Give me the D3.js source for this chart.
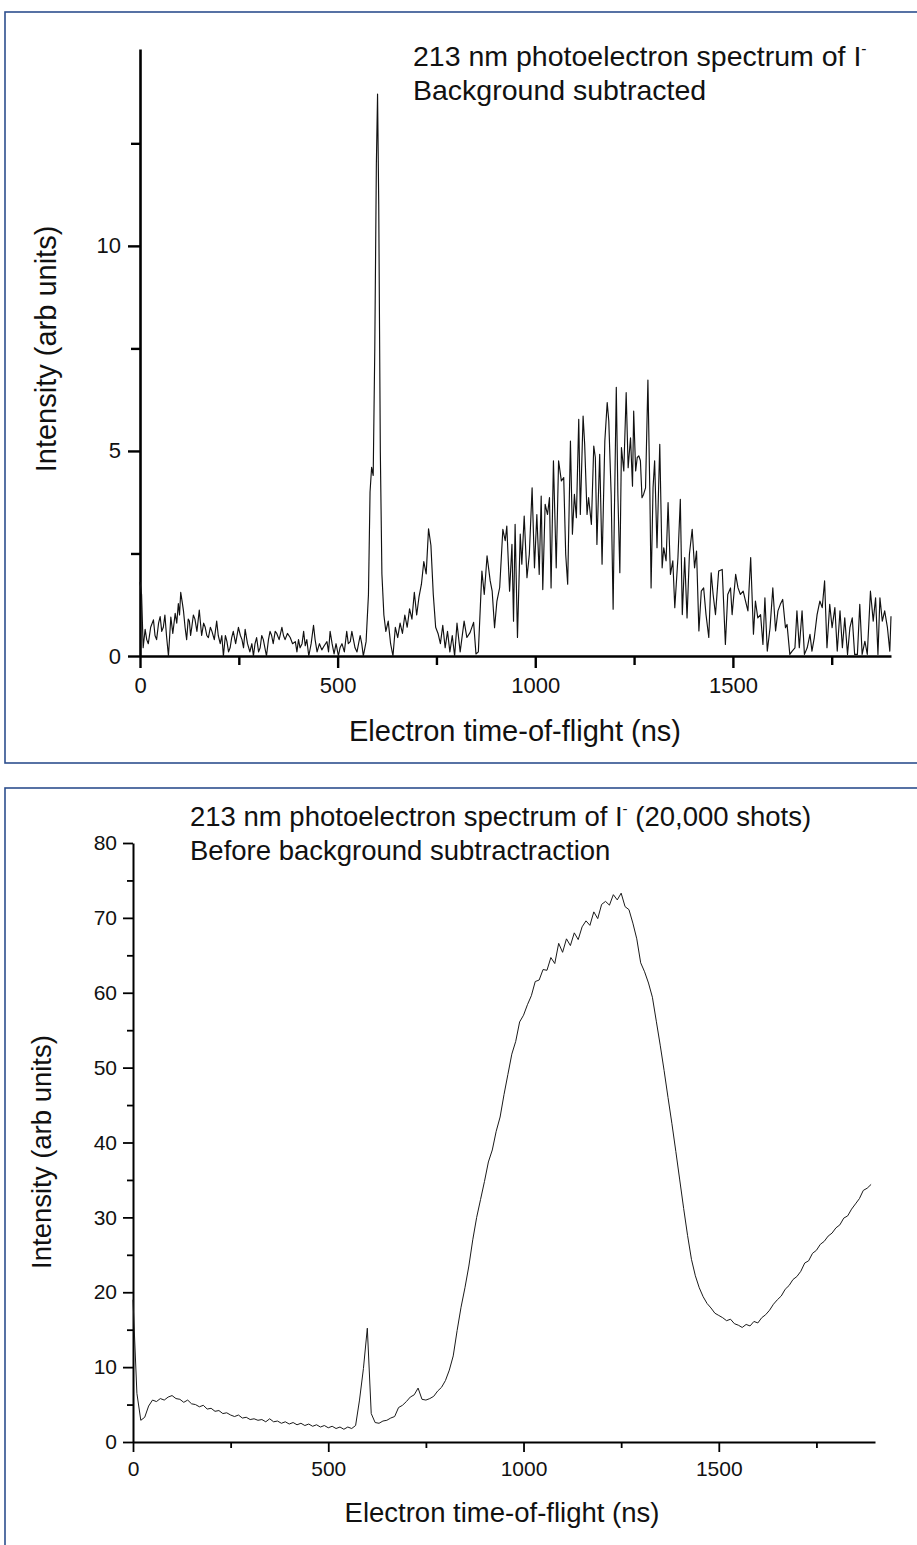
<!DOCTYPE html>
<html><head><meta charset="utf-8">
<script src="https://cdn.jsdelivr.net/npm/d3@7/dist/d3.min.js"></script>
<style>
body{margin:0;background:#fff}
svg{display:block}
text{font-family:"Liberation Sans",Arial,sans-serif;fill:#111}
</style>
</head><body>
<svg id="chart" width="917" height="1545"></svg>
<script>
// ---------- DATA ----------
// Top panel: background-subtracted spectrum [time-of-flight ns, intensity]
const topSpectrum = [
[0,1.8],[4,1.5],[8,0.2],[13,0.65],[17,0.4],[21,0.3],[27,0.7],[34,0.88],[38,0.5],[42,0.4],[47,0.8],[51,0.96],[55,0.6],[59,0.7],[63,1.0],[67,0.5],[72,0.0],[78,0.95],[83,0.55],[89,1.04],[93,0.8],[97,1.28],[100,1.0],[103,1.55],[107,1.3],[110,1.1],[114,0.7],[118,0.4],[122,0.9],[125,0.85],[128,0.5],[131,0.7],[135,1.0],[139,0.9],[144,0.6],[150,1.12],[153,0.8],[156,0.5],[161,0.8],[165,0.7],[169,0.5],[173,0.45],[178,0.7],[182,0.6],[188,0.4],[194,0.85],[198,0.5],[203,0.3],[207,0.5],[211,0.0],[216,0.5],[220,0.35],[224,0.1],[228,0.2],[232,0.45],[236,0.6],[242,0.3],[249,0.7],[254,0.5],[258,0.4],[262,0.2],[266,0.65],[272,0.3],[278,0.1],[283,0.3],[287,0.0],[291,0.3],[295,0.45],[300,0.1],[304,0.2],[308,0.5],[312,0.4],[316,0.2],[320,0.0],[325,0.4],[329,0.6],[333,0.5],[337,0.3],[342,0.6],[346,0.55],[352,0.4],[359,0.7],[363,0.5],[367,0.4],[373,0.55],[380,0.45],[386,0.3],[393,0.35],[397,0.1],[401,0.4],[405,0.2],[410,0.3],[414,0.6],[418,0.25],[422,0.4],[427,0.0],[433,0.3],[439,0.75],[443,0.4],[448,0.1],[454,0.3],[460,0.15],[466,0.25],[473,0.35],[477,0.1],[481,0.6],[486,0.3],[491,0.05],[496,0.3],[502,0.0],[506,0.2],[511,0.3],[517,0.1],[523,0.6],[527,0.3],[532,0.35],[536,0.6],[540,0.4],[544,0.2],[549,0.1],[553,0.3],[557,0.5],[561,0.3],[565,0.0],[569,0.2],[572,0.35],
[578,1.5],[582,4.0],[586,4.6],[590,4.4],[594,7.5],[598,12.0],[601,13.7],[604,11.0],[608,5.0],[612,2.0],[617,1.0],[622,0.6],[628,0.85],[634,0.3],[640,0.0],[646,0.7],[652,0.45],[658,0.8],[664,0.55],[670,1.0],[676,0.7],[682,1.15],[688,0.9],[694,1.55],[700,1.0],[706,1.45],[712,1.75],[718,2.3],[724,2.0],[730,3.1],[736,2.7],[742,1.5],[748,0.7],[754,0.55],[760,0.3],[766,0.75],[772,0.2],[778,0.6],[784,0.1],[790,0.5],[796,0.0],[802,0.8],
[810,0.1],[820,0.85],[827,0.45],[835,0.57],[844,0.82],[850,0.05],[856,0.1],[865,2.07],[871,1.5],[878,2.44],[886,1.83],[891,1.58],[897,0.69],[903,1.34],[910,1.67],[918,3.09],[924,2.81],[928,3.17],[935,1.58],[941,2.72],[945,0.85],[949,3.21],[955,0.45],[962,2.97],[966,2.24],[972,3.41],[979,1.91],[985,2.48],[992,4.1],[998,2.15],[1004,3.45],[1010,1.99],[1015,3.9],[1019,1.62],[1025,3.7],[1031,3.45],[1036,3.86],[1040,1.66],[1046,4.76],[1053,2.15],[1059,4.76],[1066,4.27],[1072,4.35],[1077,2.48],[1082,1.75],[1089,5.24],[1094,2.97],[1099,3.94],[1104,3.37],[1110,5.77],[1114,3.45],[1121,5.85],[1125,5.16],[1131,3.45],[1135,3.86],[1142,3.21],[1148,5.12],[1152,4.84],[1156,2.72],[1163,4.92],[1169,2.24],[1176,5.24],[1182,6.18],[1186,5.73],[1192,3.94],[1197,1.14],[1200,3.37],[1205,6.55],[1209,3.94],[1214,2.03],[1218,5.08],[1224,4.51],[1230,6.42],[1235,4.59],[1241,5.32],[1246,4.14],[1249,5.97],[1254,4.51],[1258,4.84],[1262,4.88],[1266,4.76],[1270,3.86],[1274,3.94],[1279,4.1],[1285,6.73],[1290,3.94],[1293,1.66],[1298,4.1],[1302,4.76],[1308,2.64],[1315,5.16],[1321,2.15],[1325,2.64],[1331,2.32],[1336,3.74],[1342,1.99],[1348,2.32],[1353,1.18],[1361,2.4],[1367,3.82],[1372,1.01],[1378,2.4],[1384,0.93],[1390,2.48],[1397,3.09],[1403,2.15],[1408,2.56],[1414,0.61],[1420,1.58],[1426,1.66],[1432,1.01],[1439,0.45],[1445,2.03],[1450,1.5],[1456,1.01],[1464,2.07],[1473,2.11],[1481,0.28],[1487,1.5],[1494,1.66],[1498,1.01],[1507,1.99],[1513,1.66],[1519,1.5],[1526,1.58],[1532,1.34],[1538,1.1],[1545,2.4],[1552,0.53],[1557,1.34],[1563,0.93],[1570,1.01],[1576,0.28],[1581,1.42],[1587,0.12],[1594,0.69],[1601,1.66],[1608,0.61],[1614,1.1],[1620,1.26],[1626,1.38],[1633,0.69],[1637,0.77],[1644,0.04],[1650,0.12],[1657,0.2],[1662,1.1],[1668,0.2],[1675,1.1],[1681,0.04],[1688,0.2],[1695,0.53],[1700,0.12],[1706,0.45],[1713,1.01],[1720,1.34],[1726,1.18],[1732,1.83],[1738,0.2],[1745,1.26],[1751,0.69],[1758,1.18],[1764,0.12],[1771,1.1],[1777,0.2],[1783,0.93],[1790,0.04],[1796,0.69],[1802,0.93],[1808,0.04],[1815,0.04],[1821,1.26],[1827,0.04],[1834,0.36],[1840,0.04],[1848,1.58],[1855,0.85],[1861,1.42],[1867,0.04],[1872,1.42],[1878,0.85],[1884,1.1],[1891,0.69],[1897,0.12],[1900,0.97]
];

// Bottom panel: raw spectrum before background subtraction [ns, intensity]
const bottomSpectrum = [
[0,19.0],[10,6.5],[20,2.9],[30,3.3],[40,4.8],[50,5.6],[60,5.4],[70,5.8],[80,5.6],[90,6.0],[100,6.2],[110,5.8],[120,5.7],[130,5.3],[140,5.6],[150,5.1],[160,5.0],[170,4.7],[180,4.9],[190,4.4],[200,4.5],[210,4.1],[220,4.2],[230,3.8],[240,3.9],[250,3.6],[260,3.4],[270,3.6],[280,3.2],[290,3.3],[300,3.0],[310,3.1],[320,2.9],[330,3.0],[340,2.7],[350,3.1],[360,2.7],[370,2.8],[380,2.5],[390,2.7],[400,2.4],[410,2.6],[420,2.3],[430,2.5],[440,2.2],[450,2.4],[460,2.1],[470,2.3],[480,2.0],[490,2.2],[500,1.9],[510,2.1],[520,1.8],[530,2.0],[540,1.7],[550,2.0],[560,1.8],[570,2.2],[580,5.6],[590,9.8],[600,15.2],[610,3.8],[620,2.6],[630,2.5],[640,2.8],[650,2.9],[660,3.2],[670,3.4],[680,4.6],[690,4.9],[700,5.4],[710,6.0],[720,6.3],[730,7.2],[740,5.7],[750,5.6],[760,5.8],[770,6.1],[780,6.8],[790,7.3],[800,8.2],[810,9.6],[820,11.5],[830,14.9],[840,18.0],[850,20.6],[860,23.5],[870,27.0],[880,30.0],[890,32.4],[900,34.8],[910,37.4],[920,39.0],[930,41.5],[940,43.4],[950,46.4],[960,49.1],[970,51.8],[980,53.5],[990,56.1],[1000,57.0],[1010,58.4],[1020,59.6],[1030,61.5],[1040,61.7],[1050,63.1],[1060,63.0],[1070,64.7],[1080,63.9],[1090,66.6],[1100,65.4],[1110,67.2],[1120,66.3],[1130,68.0],[1140,67.1],[1150,68.8],[1160,69.6],[1170,69.0],[1180,70.8],[1190,69.9],[1200,71.8],[1210,72.2],[1220,71.7],[1230,73.1],[1240,72.4],[1250,73.3],[1260,71.5],[1270,71.1],[1280,69.3],[1290,67.2],[1300,64.0],[1310,62.8],[1320,61.3],[1330,59.4],[1340,56.2],[1350,53.0],[1360,49.6],[1370,46.0],[1380,42.5],[1390,38.8],[1400,35.0],[1410,31.2],[1420,27.6],[1430,24.4],[1440,22.2],[1450,20.6],[1460,19.4],[1470,18.5],[1480,17.9],[1490,17.2],[1500,16.9],[1510,16.6],[1520,16.2],[1530,16.4],[1540,15.8],[1550,15.6],[1560,15.3],[1570,15.7],[1580,15.5],[1590,16.1],[1600,15.9],[1610,16.6],[1620,17.0],[1630,17.6],[1640,18.4],[1650,19.0],[1660,19.5],[1670,20.4],[1680,20.9],[1690,21.7],[1700,22.1],[1710,22.8],[1720,23.9],[1730,24.2],[1740,25.2],[1750,25.6],[1760,26.4],[1770,26.8],[1780,27.5],[1790,27.9],[1800,28.6],[1810,29.0],[1820,29.9],[1830,30.2],[1840,31.1],[1850,31.8],[1860,32.5],[1870,33.6],[1880,33.9],[1890,34.4]
];

const xMajorTicks = [0, 500, 1000, 1500];
const xMinorTicks = [250, 750, 1250, 1750];
const topYMajorTicks = [0, 5, 10];
const topYMinorTicks = [2.5, 7.5, 12.5];
const botYMajorTicks = [0, 10, 20, 30, 40, 50, 60, 70, 80];
const botYMinorTicks = [5, 15, 25, 35, 45, 55, 65, 75];
const topTitle = ["213 nm photoelectron spectrum of I", "", "Background subtracted"];
const botTitle = ["213 nm photoelectron spectrum of I", " (20,000 shots)", "Before background subtractraction"];
const xLabel = "Electron time-of-flight (ns)";
const yLabel = "Intensity (arb units)";

// ---------- DRAW ----------
const svg = d3.select("#chart");
const border = "#2d4f8e";

// panel frames
svg.append("rect").attr("x", 5).attr("y", 12).attr("width", 930).attr("height", 751)
  .attr("fill", "none").attr("stroke", border).attr("stroke-width", 1.6);
svg.append("rect").attr("x", 5).attr("y", 788).attr("width", 930).attr("height", 780)
  .attr("fill", "none").attr("stroke", border).attr("stroke-width", 1.6);

function panel(cfg) {
  const g = svg.append("g");
  const x = d3.scaleLinear().domain([0, 1900]).range(cfg.xRange);
  const y = d3.scaleLinear().domain(cfg.yDomain).range(cfg.yRange);

  // minor ticks
  g.append("g").attr("transform", `translate(0,${cfg.yRange[0]})`)
    .call(d3.axisBottom(x).tickValues(xMinorTicks).tickSize(cfg.minor).tickSizeOuter(0).tickFormat(""))
    .call(a => a.select(".domain").remove())
    .call(a => a.selectAll("line").attr("stroke", "#000").attr("stroke-width", cfg.tickW));
  g.append("g").attr("transform", `translate(${cfg.xRange[0]},0)`)
    .call(d3.axisLeft(y).tickValues(cfg.yMinor).tickSize(cfg.minor).tickSizeOuter(0).tickFormat(""))
    .call(a => a.select(".domain").remove())
    .call(a => a.selectAll("line").attr("stroke", "#000").attr("stroke-width", cfg.tickW));

  // major axes
  const xa = g.append("g").attr("transform", `translate(0,${cfg.yRange[0]})`)
    .call(d3.axisBottom(x).tickValues(xMajorTicks).tickSize(cfg.major).tickSizeOuter(0)
      .tickPadding(cfg.xPad).tickFormat(d3.format("d")));
  const ya = g.append("g").attr("transform", `translate(${cfg.xRange[0]},0)`)
    .call(d3.axisLeft(y).tickValues(cfg.yMajor).tickSize(cfg.major).tickSizeOuter(0)
      .tickPadding(cfg.yPad).tickFormat(d3.format("d")));
  [xa, ya].forEach(a => {
    a.select(".domain").attr("stroke", "#000").attr("stroke-width", cfg.axisW);
    a.selectAll("line").attr("stroke", "#000").attr("stroke-width", cfg.tickW);
    a.selectAll("text").attr("font-size", cfg.tickFont).attr("fill", "#111")
      .style("font-family", '"Liberation Sans",Arial,sans-serif');
  });

  // data line
  const line = d3.line().x(d => x(d[0])).y(d => y(Math.max(0, d[1])));
  g.append("path").datum(cfg.data).attr("d", line)
    .attr("fill", "none").attr("stroke", cfg.lineColor).attr("stroke-width", cfg.lineW)
    .attr("stroke-linejoin", "round");

  // titles
  const t1 = g.append("text").attr("x", cfg.titleX).attr("y", cfg.titleY).attr("font-size", cfg.titleFont);
  t1.append("tspan").text(cfg.title[0]);
  t1.append("tspan").attr("font-size", cfg.titleFont * 0.55).attr("dy", -cfg.titleFont * 0.42).text("-");
  if (cfg.title[1]) t1.append("tspan").attr("dy", cfg.titleFont * 0.42).text(cfg.title[1]);
  g.append("text").attr("x", cfg.titleX).attr("y", cfg.titleY + cfg.lineGap)
    .attr("font-size", cfg.titleFont).text(cfg.title[2]);

  // axis labels
  g.append("text").attr("x", cfg.xLabelPos[0]).attr("y", cfg.xLabelPos[1])
    .attr("text-anchor", "middle").attr("font-size", cfg.labelFont).text(xLabel);
  g.append("text").attr("transform", `translate(${cfg.yLabelPos[0]},${cfg.yLabelPos[1]}) rotate(-90)`)
    .attr("text-anchor", "middle").attr("font-size", cfg.labelFont).text(yLabel);
}

panel({
  data: topSpectrum, xRange: [140, 891], yDomain: [0, 14.8], yRange: [656, 49],
  yMajor: topYMajorTicks, yMinor: topYMinorTicks,
  major: 12, minor: 9, axisW: 2.6, tickW: 2.4, xPad: 9, yPad: 7, tickFont: 22,
  lineColor: "#111", lineW: 1.15,
  title: topTitle, titleX: 413, titleY: 66, lineGap: 34, titleFont: 28.5,
  labelFont: 29, xLabelPos: [515, 741], yLabelPos: [56, 349]
});

panel({
  data: bottomSpectrum, xRange: [133, 875], yDomain: [0, 80], yRange: [1442, 843],
  yMajor: botYMajorTicks, yMinor: botYMinorTicks,
  major: 10, minor: 6, axisW: 2, tickW: 1.8, xPad: 9, yPad: 6, tickFont: 21,
  lineColor: "#1a1a1a", lineW: 1.0,
  title: botTitle, titleX: 190, titleY: 826, lineGap: 34, titleFont: 27.5,
  labelFont: 27.5, xLabelPos: [502, 1522], yLabelPos: [51, 1152]
});
</script>
</body></html>
